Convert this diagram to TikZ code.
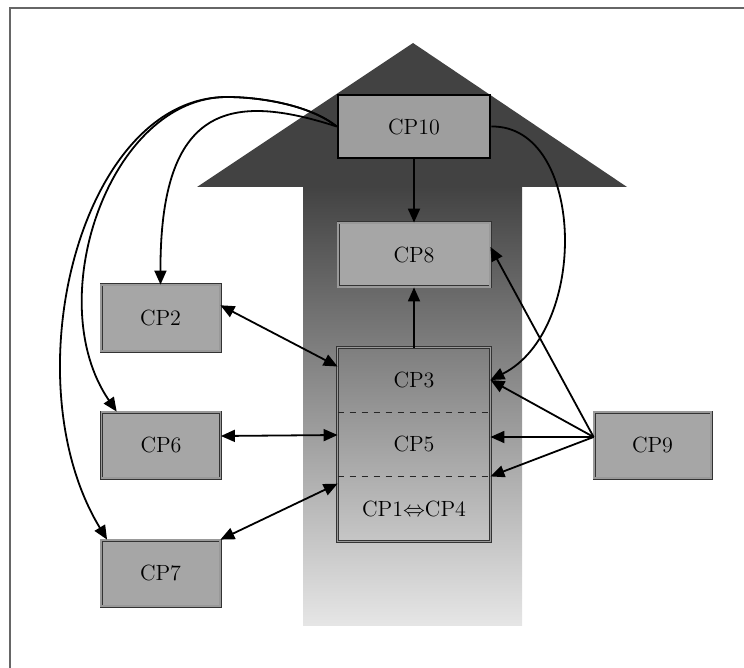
\documentclass[tikz,border=0pt]{standalone}
\usetikzlibrary{arrows.meta}
\begin{document}
\begin{tikzpicture}[
  x=0.5pt, y=-0.5pt,
  box/.style={draw=black!80, double=black!40, double distance=0.7pt, fill=black!35, minimum width=59.5pt, minimum height=33pt, inner sep=0pt, font=\fontsize{11}{13}\selectfont},
  topbox/.style={draw=black, line width=1.3pt, fill=black!38, minimum width=76pt, minimum height=31.5pt, inner sep=0pt, font=\fontsize{11}{13}\selectfont},
  part/.style={minimum width=76pt, minimum height=32pt, inner sep=0pt, font=\fontsize{11}{13}\selectfont},
  frame/.style={draw=black!80, double=black!40, double distance=0.7pt},
  arr/.style={-{Triangle[length=7pt,width=6pt]}, line width=0.9pt},
  both/.style={{Triangle[length=7pt,width=6pt]}-{Triangle[length=7pt,width=6pt]}, line width=0.9pt}
]
\useasboundingbox (0,0) rectangle (744,668);
\draw[black!60, line width=0.8pt] (10,668) -- (10,8) -- (744,8);

\fill[black!74] (413,43) -- (627,187) -- (197,187) -- cycle;
\shade[top color=black!74, middle color=black!37, bottom color=black!10] (303,187) rectangle (522,625);

\node[topbox] (cp10) at (414,126.5) {CP10};
\node[box, minimum width=76pt, minimum height=32pt] (cp8) at (414,255) {CP8};
\node[box] (cp2) at (160.5,318) {CP2};
\node[box] (cp6) at (161,445) {CP6};
\node[box] (cp7) at (160.5,573) {CP7};
\node[box, minimum width=58.5pt] (cp9) at (652.5,445) {CP9};

\node[part] (cp3) at (414,380) {CP3};
\node[part] (cp5) at (414,444) {CP5};
\node[part, minimum height=32.5pt] (cp14) at (414,508.5) {CP1$\Leftrightarrow$CP4};
\draw[frame] (cp3.north west) rectangle (cp14.south east);
\draw[dashed, black!85] (cp3.south west) -- (cp3.south east);
\draw[dashed, black!85] (cp5.south west) -- (cp5.south east);

\coordinate (bend) at (227,97);
\coordinate (src) at ([yshift=4pt]cp9.west);

\draw[arr] (cp10) -- (cp8);
\draw[arr] (cp3) -- (cp8);
\draw[arr] (cp10.west) .. controls (230,92) and (160,105) .. (cp2.north);
\draw[arr] (cp10.west) .. controls (310,105) and (260,97) .. (bend) .. controls (110,97) and (40,300) .. (cp6.143);
\draw[arr] (cp10.west) .. controls (310,105) and (260,97) .. (bend) .. controls (80,97) and (10,380) .. (cp7.148);
\draw[arr] (cp10.east) .. controls (585,125) and (590,330) .. (cp3.east);

\draw[both] (cp2.12) -- (cp3.170);
\draw[both] ([yshift=4.5pt]cp6.east) -- ([yshift=4.5pt]cp5.west);
\draw[both] (cp7.north east) -- (cp14.162);

\draw[arr] (src) -- (cp8.6);
\draw[arr] (src) -- (cp3.east);
\draw[arr] (src) -- (src -| cp5.east);
\draw[arr] (src) -- (cp5.south east);
\end{tikzpicture}
\end{document}
